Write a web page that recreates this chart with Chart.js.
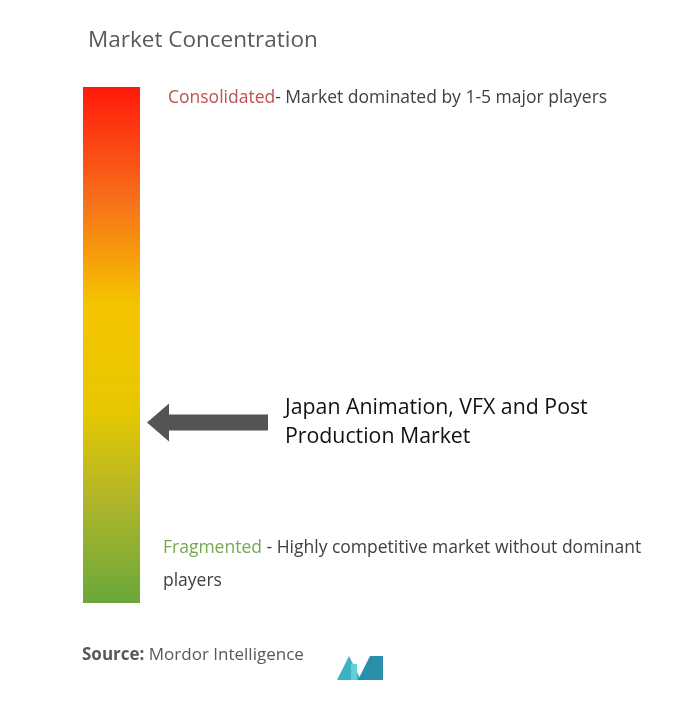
<!DOCTYPE html>
<html>
<head>
<meta charset="utf-8">
<script src="https://cdn.jsdelivr.net/npm/chart.js@4"></script>
<style>
  html, body { margin: 0; padding: 0; background: #fff; }
  #wrap { width: 699px; height: 720px; position: relative; }
</style>
</head>
<body>
<div id="wrap"><canvas id="conc" width="699" height="720"></canvas></div>
<script>
// scale: 0 = fragmented, 1 = consolidated
const categories = ['Market Concentration'];
const scaleValues = [1];
const marketPosition = 0.35;
const marketLabel = ['Japan Animation, VFX and Post', 'Production Market'];
const topLabel = ['Consolidated', '- Market dominated by 1-5 major players'];
const bottomLabel = ['Fragmented', ' - Highly competitive market without dominant', 'players'];

const FONT = '"Open Sans", "DejaVu Sans", sans-serif';

function gradientFor(chart) {
    const { ctx, chartArea } = chart;
    if (!chartArea) return '#f5c800';
    const g = ctx.createLinearGradient(0, chartArea.top, 0, chartArea.bottom);
    g.addColorStop(0, '#ff1a0a');
    g.addColorStop(0.22, '#f7701a');
    g.addColorStop(0.42, '#f5c400');
    g.addColorStop(0.62, '#e8c800');
    g.addColorStop(0.8, '#b0b528');
    g.addColorStop(1, '#6aa83c');
    return g;
}

const overlay = {
    id: 'overlay',
    afterDraw(chart) {
        const ctx = chart.ctx;
        const y = chart.scales.y;
        const area = chart.chartArea;
        ctx.save();
        ctx.textBaseline = 'middle';

        // title
        ctx.font = '22.5px ' + FONT;
        ctx.fillStyle = '#595959';
        ctx.fillText('Market Concentration', 88, 41);

        // top label
        ctx.font = '17.5px ' + FONT;
        ctx.fillStyle = '#c0504d';
        ctx.fillText(topLabel[0], 168, 98);
        let w = ctx.measureText(topLabel[0]).width;
        ctx.fillStyle = '#404040';
        ctx.fillText(topLabel[1], 168 + w, 98);

        // bottom label
        ctx.fillStyle = '#77a84e';
        ctx.fillText(bottomLabel[0], 163, 548);
        w = ctx.measureText(bottomLabel[0]).width;
        ctx.fillStyle = '#404040';
        ctx.fillText(bottomLabel[1], 163 + w, 548);
        ctx.fillText(bottomLabel[2], 163, 581);

        // arrow
        const ay = y.getPixelForValue(marketPosition);
        const tip = area.right + 7;
        ctx.fillStyle = '#545454';
        ctx.beginPath();
        ctx.moveTo(tip, ay);
        ctx.lineTo(tip + 22, ay - 19);
        ctx.lineTo(tip + 22, ay - 8);
        ctx.lineTo(268, ay - 8);
        ctx.lineTo(268, ay + 8);
        ctx.lineTo(tip + 22, ay + 8);
        ctx.lineTo(tip + 22, ay + 19);
        ctx.closePath();
        ctx.fill();

        ctx.font = '21.3px ' + FONT;
        ctx.fillStyle = '#111';
        ctx.fillText(marketLabel[0], 285, ay - 14);
        ctx.fillText(marketLabel[1], 285, ay + 15);

        // source
        ctx.font = 'bold 17px ' + FONT;
        ctx.fillStyle = '#595959';
        ctx.fillText('Source:', 82, 655);
        w = ctx.measureText('Source: ').width;
        ctx.font = '17px ' + FONT;
        ctx.fillText('Mordor Intelligence', 82 + w, 655);

        // logo
        ctx.fillStyle = '#3bb3c3';
        ctx.beginPath();
        ctx.moveTo(337, 680); ctx.lineTo(349, 656); ctx.lineTo(361, 680); ctx.closePath(); ctx.fill();
        ctx.fillStyle = '#2a8fa8';
        ctx.beginPath();
        ctx.moveTo(358, 680); ctx.lineTo(370, 656); ctx.lineTo(383, 656); ctx.lineTo(383, 680); ctx.closePath(); ctx.fill();
        ctx.fillStyle = '#5fd0d8';
        ctx.fillRect(351, 664, 6, 16);
        ctx.restore();
    }
};

new Chart(document.getElementById('conc'), {
    type: 'bar',
    data: {
        labels: categories,
        datasets: [{
            data: scaleValues,
            backgroundColor: ctx => gradientFor(ctx.chart),
            borderWidth: 0,
            barPercentage: 1,
            categoryPercentage: 1
        }]
    },
    options: {
        responsive: false,
        animation: false,
        layout: { padding: { left: 83, right: 559, top: 87, bottom: 117 } },
        plugins: { legend: { display: false }, tooltip: { enabled: false } },
        scales: {
            x: { display: false },
            y: { display: false, min: 0, max: 1 }
        }
    },
    plugins: [overlay]
});
</script>
</body>
</html>
